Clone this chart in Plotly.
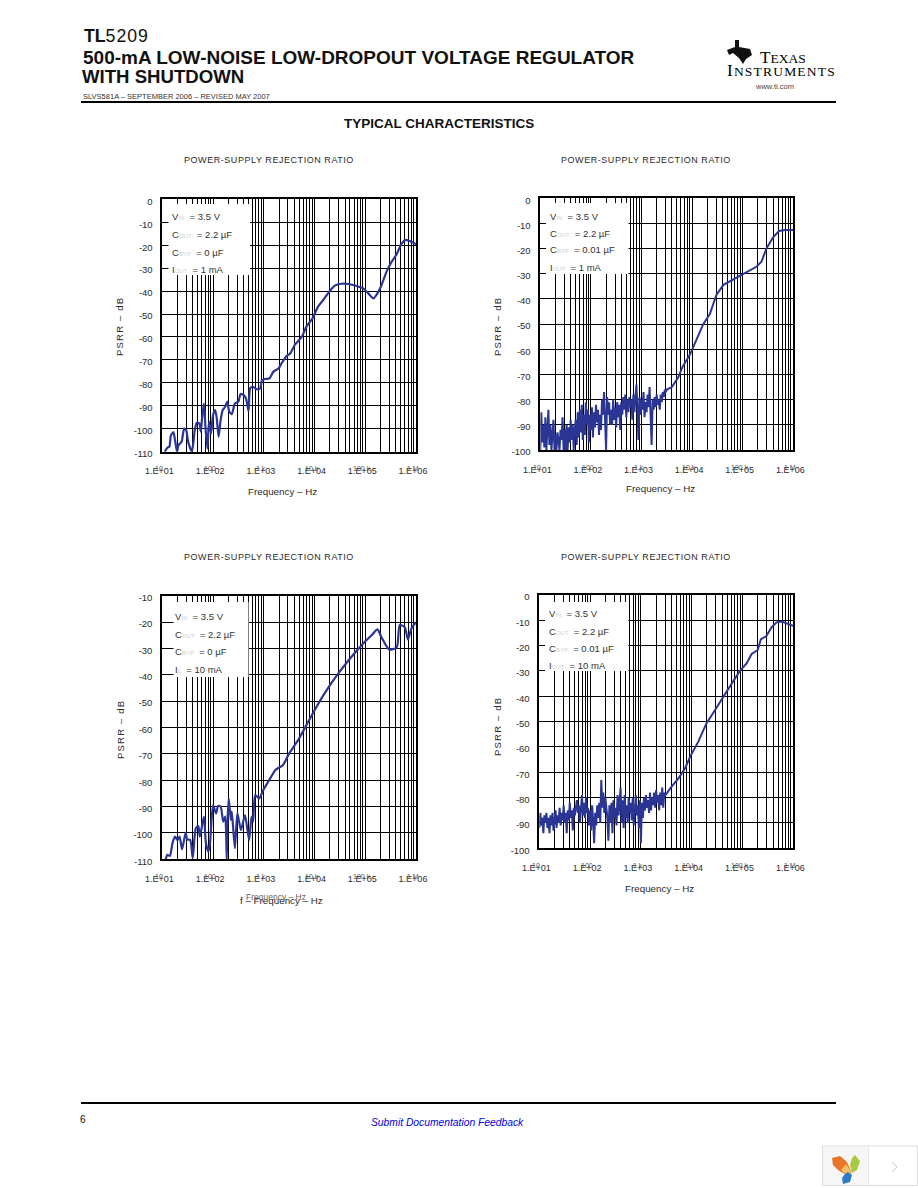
import math
import plotly.graph_objects as go

W, H = 918, 1188

# ---------- data: log10(frequency in Hz) and PSRR in dB ----------
lf_a = [1.05,1.10,1.14,1.17,1.22,1.25,1.29,1.32,1.38,1.43,1.47,1.51,1.58,1.61,1.64,1.68,1.73,1.76,1.78,1.82,
        1.85,1.89,1.92,1.96,2.00,2.04,2.07,2.11,2.15,2.19,2.24,2.28,2.32,2.37,2.43,2.50,2.54,2.60,2.65,2.70,
        2.73,2.78,2.87,2.93,2.96,3.02,3.11,3.19,3.29,3.35,3.45,3.52,3.61,3.75,3.84,3.96,4.07,4.17,4.29,4.40,
        4.53,4.67,4.83,4.96,5.06,5.16,5.24,5.32,5.42,5.52,5.61,5.72,5.80,5.91,6.00]
db_a = [-110,-108.3,-107.8,-102.8,-101.5,-104.9,-110,-107.1,-105.7,-99.9,-100.6,-105.7,-110,-106.4,-100.6,-97.4,-97.7,-101.3,-96.2,-89,
        -99.1,-108.6,-96.9,-102,-94,-91.9,-94.8,-103.5,-96.2,-91.9,-90.4,-88.2,-92.6,-93.6,-89,-88.2,-84.9,-85.3,-86.8,-92.3,
        -82.4,-81.7,-82.8,-82.4,-79.1,-78.3,-78.1,-75.1,-73.7,-71.5,-68.3,-67.2,-63.5,-59.9,-55.5,-51.9,-46.8,-43.9,-40.3,-37.6,
        -36.8,-36.9,-37.8,-38.8,-41,-43.2,-41,-37.4,-31.5,-27.2,-24.3,-19.2,-17.7,-18.5,-19.6]

lf_b = [1.00,1.02,1.04,1.06,1.08,1.10,1.12,1.14,1.16,1.18,
        1.20,1.22,1.24,1.26,1.28,1.30,1.32,1.34,1.36,1.38,
        1.40,1.42,1.44,1.46,1.48,1.50,1.52,1.54,1.56,1.58,
        1.60,1.62,1.64,1.66,1.68,1.70,1.72,1.74,1.76,1.78,
        1.80,1.82,1.84,1.86,1.88,1.90,1.92,1.94,1.96,1.98,
        2.00,2.02,2.04,2.06,2.08,2.10,2.12,2.14,2.16,2.18,
        2.20,2.22,2.24,2.26,2.28,2.30,2.32,2.34,2.36,2.38,
        2.40,2.42,2.44,2.46,2.48,2.50,2.52,2.54,2.56,2.58,
        2.60,2.62,2.64,2.66,2.68,2.70,2.72,2.74,2.76,2.78,
        2.80,2.82,2.84,2.86,2.88,2.90,2.92,2.94,2.96,2.98,
        3.00,3.02,3.04,3.06,3.08,3.10,3.12,3.14,3.16,3.18,
        3.20,3.22,3.24,3.26,3.28,3.30,3.32,3.34,3.36,3.38,
        3.40,3.42,3.44,3.46,3.48,
        3.50,3.60,3.73,3.81,3.96,4.09,4.22,4.35,4.48,4.62,4.78,4.95,5.11,5.27,5.37,5.47,5.60,5.72,5.83,6.00]
db_b = [-100,-85,-97,-90,-99,-87,-100,-92,-84,-98,
        -90,-100,-93,-88,-100,-94,-100,-93,-96,-100,
        -92,-96,-87,-100,-92,-100,-90,-100,-91,-97,
        -88,-96,-90,-100,-92,-88,-98,-85,-95,-84,
        -93,-82,-96,-86,-94,-81,-90,-84,-97,-86,
        -92,-83,-95,-85,-91,-82,-89,-84,-94,-86,
        -92,-80,-86,-77,-88,-100,-79,-86,-81,-90,
        -84,-90,-80,-88,-83,-91,-81,-87,-82,-92,
        -81,-86,-79,-84,-78,-87,-80,-85,-79,-83,
        -80,-88,-78,-85,-79,-74,-84,-96,-79,-86,
        -80,-84,-77,-87,-81,-85,-78,-83,-75,-86,
        -98,-80,-84,-79,-83,-78,-82,-80,-84,-78,
        -81,-77,-79,-76,-77,
        -76,-75,-71,-67,-62,-56,-50,-46,-38.4,-34.4,-32.7,-30.6,-29.1,-27.2,-25.2,-19.9,-15.5,-13,-12.6,-12.6]

lf_c = [1.07,1.10,1.15,1.20,1.25,1.30,1.34,1.39,1.46,1.49,1.55,1.60,1.66,1.71,1.74,1.82,1.86,1.91,1.94,2.00,
        2.06,2.10,2.15,2.20,2.24,2.27,2.28,2.31,2.35,2.37,2.43,2.48,2.55,2.63,2.71,2.76,2.79,2.83,2.91,2.99,
        3.09,3.23,3.38,3.50,3.68,3.84,4.04,4.24,4.47,4.70,4.96,5.13,5.24,5.32,5.47,5.62,5.68,5.78,5.84,5.91,6.00]
db_c = [-110,-108.3,-108.7,-103.9,-101.4,-102.7,-101.4,-106.2,-99.9,-102.4,-102.7,-109.6,-98.2,-97.4,-101.4,-93.8,-103.9,-107.1,-103.9,-89.4,
        -92.6,-89.8,-90,-95.7,-93.8,-110,-98,-86.9,-95.1,-91.9,-105.8,-92.6,-98.9,-93.2,-102.7,-93.8,-95.7,-85.6,-86.9,-83.7,
        -80.5,-76.1,-74.2,-69.8,-64.7,-59.1,-52.1,-45.8,-39.5,-33.8,-28.1,-24.9,-22.8,-25.8,-30.4,-29.6,-21.1,-22,-26.6,-22.4,-20.1]

lf_d = [1.00,1.02,1.04,1.06,1.08,1.10,1.12,1.14,1.16,1.18,
        1.20,1.22,1.24,1.26,1.28,1.30,1.32,1.34,1.36,1.38,
        1.40,1.42,1.44,1.46,1.48,1.50,1.52,1.54,1.56,1.58,
        1.60,1.62,1.64,1.66,1.68,1.70,1.72,1.74,1.76,1.78,
        1.80,1.82,1.84,1.86,1.88,1.90,1.92,1.94,1.96,1.98,
        2.00,2.02,2.04,2.06,2.08,2.10,2.12,2.14,2.16,2.18,
        2.20,2.22,2.24,2.26,2.28,2.30,2.32,2.34,2.36,2.38,
        2.40,2.42,2.44,2.46,2.48,2.50,2.52,2.54,2.56,2.58,
        2.60,2.62,2.64,2.66,2.68,2.70,2.72,2.74,2.76,2.78,
        2.80,2.82,2.84,2.86,2.88,2.90,2.92,2.94,2.96,2.98,
        3.00,3.02,3.04,3.06,3.08,3.10,3.12,3.14,3.16,3.18,
        3.20,3.22,3.24,3.26,3.28,3.30,3.32,3.34,3.36,3.38,
        3.40,3.42,3.44,3.46,3.48,
        3.51,3.60,3.74,3.87,3.97,4.13,4.29,4.46,4.62,4.79,4.95,5.08,5.18,5.30,5.36,5.47,5.57,5.67,5.77,5.90,6.00]
db_d = [-92,-86,-91,-88,-94,-87,-90,-86,-92,-88,
        -94,-87,-91,-86,-93,-88,-85,-92,-87,-90,
        -84,-91,-86,-89,-83,-90,-86,-94,-85,-89,
        -82,-88,-85,-93,-84,-87,-83,-81,-86,-83,
        -90,-84,-79,-87,-82,-88,-80,-86,-84,-91,
        -85,-93,-83,-89,-98,-86,-91,-83,-88,-82,
        -90,-73,-84,-78,-86,-80,-84,-88,-97,-83,
        -90,-82,-94,-81,-88,-84,-91,-79,-87,-83,
        -76,-90,-81,-92,-79,-88,-83,-90,-80,-86,
        -82,-89,-80,-91,-84,-79,-87,-83,-92,-81,
        -98,-82,-88,-80,-85,-79,-84,-81,-86,-78,
        -85,-80,-83,-78,-84,-77,-82,-79,-85,-78,
        -83,-76,-84,-78,-79,
        -78.3,-75.7,-72.4,-68.4,-63.8,-57.9,-50.7,-45.4,-40.1,-34.9,-29.9,-27,-23.3,-21.7,-17.5,-16.2,-12.8,-10.8,-10.5,-11.4,-12.2]

x_ticks = [10, 100, 1000, 10000, 100000, 1000000]
x_tick_labels = ["1.E+01", "1.E+02", "1.E+03", "1.E+04", "1.E+05", "1.E+06"]
x_overlay_labels = ["10", "100", "1 k", "10 k", "100 k", "1 M"]

FONT = "Liberation Sans"
INK = "#2b2b2b"
BLUE = "#2b3694"

def px(x): return x / W
def py(y): return 1 - y / H

def small(s):
    return f'<span style="color:#d0d0d0;font-size:6px">{s}</span>'

NB = "\u00a0"
panels = [
    dict(lf=lf_a, db=db_a, box=(162.3, 416, 199.3, 451.7), yr=(-110, 0), yt=list(range(-110, 1, 10)), spline=True,
         white=(168.5, 250, 204, 275), lx=171, ly=(216, 234.5, 252, 269), ttl=(269, 160), xt=(282, 491), yttl=(119, 327),
         leg=[f"V{small('IN')}{NB}{NB}= 3.5 V", f"C{small('OUT')}{NB}{NB}= 2.2 µF", f"C{small('BYP')}{NB}{NB}= 0 µF", f"I{small('OUT')}{NB}{NB}= 1 mA"]),
    dict(lf=lf_b, db=db_b, box=(540.3, 793.3, 198.3, 450), yr=(-100, 0), yt=list(range(-100, 1, 10)), spline=False,
         white=(546, 628.5, 203, 274), lx=549, ly=(216, 233, 250, 268), ttl=(646, 160), xt=(660, 489), yttl=(497, 327),
         leg=[f"V{small('IN')}{NB}{NB}= 3.5 V", f"C{small('OUT')}{NB}{NB}= 2.2 µF", f"C{small('BYP')}{NB}{NB}= 0.01 µF", f"I{small('OUT')}{NB}{NB}= 1 mA"]),
    dict(lf=lf_c, db=db_c, box=(162.3, 416, 595.7, 859.3), yr=(-110, -10), yt=list(range(-110, -9, 10)), spline=True,
         white=(173.5, 248.5, 602, 677), lx=174, ly=(616, 634, 651, 669), ttl=(269, 557), xt=(281, 900), yttl=(120, 730),
         leg=[f"V{small('IN')}{NB}{NB}= 3.5 V", f"C{small('OUT')}{NB}{NB}= 2.2 µF", f"C{small('BYP')}{NB}{NB}= 0 µF", f"I{small('L')}{NB}{NB}= 10 mA"]),
    dict(lf=lf_d, db=db_d, box=(539.3, 793.3, 595, 848.3), yr=(-100, 0), yt=list(range(-100, 1, 10)), spline=False,
         white=(545, 628.5, 602, 671), lx=548, ly=(613.5, 631, 648, 665.5), ttl=(646, 557), xt=(659, 888), yttl=(497, 727),
         leg=[f"V{small('IN')}{NB}{NB}= 3.5 V", f"C{small('OUT')}{NB}{NB}= 2.2 µF", f"C{small('BYP')}{NB}{NB}= 0.01 µF", f"I{small('OUT')}{NB}{NB}= 10 mA"]),
]

fig = go.Figure()
annotations, shapes = [], []

def text(x, y, s, size=9, color=INK, family=FONT, anchor="center", angle=0, **kw):
    annotations.append(dict(x=px(x), y=py(y), xref="paper", yref="paper", text=s, showarrow=False,
                            xanchor=anchor, yanchor="middle", textangle=angle,
                            font=dict(size=size, color=color, family=family), borderpad=0, **kw))

def rect(x0, y0, x1, y1, fill, line=None, lw=0, layer="above"):
    shapes.append(dict(type="rect", xref="paper", yref="paper", x0=px(x0), x1=px(x1), y0=py(y1), y1=py(y0),
                       fillcolor=fill, line=dict(color=line or fill, width=lw), layer=layer))

def poly(points, fill, line=None, lw=0, close=True):
    d = "M " + " L ".join(f"{px(a):.5f},{py(b):.5f}" for a, b in points) + (" Z" if close else "")
    shapes.append(dict(type="path", path=d, xref="paper", yref="paper", fillcolor=fill,
                       line=dict(color=line or "rgba(0,0,0,0)", width=lw), layer="above"))

for i, p in enumerate(panels):
    n = "" if i == 0 else str(i + 1)
    x0, x1, y0, y1 = p["box"]
    freq = [10 ** v for v in p["lf"]]
    fig.add_trace(go.Scatter(x=freq, y=p["db"], mode="lines", xaxis=f"x{n}", yaxis=f"y{n}", showlegend=False,
                             line=dict(color=BLUE, width=2.2 if p["spline"] else 2,
                                       shape="spline" if p["spline"] else "linear", smoothing=0.6)))
    fig.layout[f"xaxis{n}"] = dict(
        type="log", range=[1, 6], domain=[px(x0), px(x1)], anchor=f"y{n}",
        tickmode="array", tickvals=x_ticks, ticktext=x_tick_labels,
        ticks="outside", ticklen=10, tickcolor="rgba(255,255,255,0)",
        tickfont=dict(size=9, color=INK, family=FONT), tickangle=0, ticklabelshift=-3,
        showgrid=True, gridcolor="#000", gridwidth=1,
        minor=dict(dtick="D1", showgrid=True, gridcolor="#000", gridwidth=1, ticks=""),
        showline=True, linecolor="#000", linewidth=1.5, mirror=True, zeroline=False)
    fig.layout[f"yaxis{n}"] = dict(
        range=list(p["yr"]), domain=[py(y1), py(y0)], anchor=f"x{n}",
        tickmode="array", tickvals=p["yt"], ticktext=[str(v) for v in p["yt"]],
        ticks="outside", ticklen=6, tickcolor="rgba(255,255,255,0)",
        tickfont=dict(size=9.5, color=INK, family=FONT), ticklabelshift=2,
        showgrid=True, gridcolor="#000", gridwidth=1,
        showline=True, linecolor="#000", linewidth=2 if i == 2 else 1.5, mirror=True, zeroline=False)
    rect(*[p["white"][0], p["white"][2], p["white"][1], p["white"][3]], "#fff")
    text(p["ttl"][0], p["ttl"][1], '<span style="letter-spacing:0.55px">POWER-SUPPLY REJECTION RATIO</span>', size=9)
    text(p["xt"][0], p["xt"][1], "f – Frequency – Hz" if i == 2 else "Frequency – Hz", size=9.8)
    text(p["yttl"][0], p["yttl"][1], '<span style="letter-spacing:1.2px">PSRR – dB</span>', size=9.5, angle=-90)
    for s, yy in zip(p["leg"], p["ly"]):
        text(p["lx"], yy, s, size=9.5, color="#333", anchor="left")
    for tv, ov in zip(x_ticks, x_overlay_labels):
        annotations.append(dict(x=math.log10(tv), y=py(y1 + 17), xref=f"x{n}", yref="paper", text=ov, showarrow=False,
                                xanchor="center", yanchor="middle", xshift=-3,
                                font=dict(size=7, color="#555", family=FONT)))

text(276, 897, "Frequency – Hz", size=8.5, color="#666")

# ---------- document furniture ----------
text(83, 36, '<b>TL</b><span style="letter-spacing:1px">5209</span>', size=17.7, color="#111", anchor="left")
text(82, 57.5, "<b>500-mA LOW-NOISE LOW-DROPOUT VOLTAGE REGULATOR</b>", size=19, color="#111", anchor="left")
text(81, 76.5, "<b>WITH SHUTDOWN</b>", size=18.6, color="#111", anchor="left")
text(82, 97, "SLVS581A – SEPTEMBER 2006 – REVISED MAY 2007", size=7.5, color="#333", anchor="left")
text(439, 124, "<b>TYPICAL CHARACTERISTICS</b>", size=13.5, color="#111")
rect(81, 101, 836, 103, "#000")
rect(81, 1102, 836, 1104, "#000")
text(83, 1119, "6", size=10, color="#111")
text(447.5, 1122, "<i>Submit Documentation Feedback</i>", size=10.3, color="#0000e0")

# TI logo
poly([(735, 40), (739, 40), (739, 47), (750, 49), (752, 55), (746, 59), (743, 64), (739, 58), (733, 53), (729, 55), (727, 50), (735, 47)], "#111")
text(783, 57, 'T<span style="font-size:13.5px">EXAS</span>', size=17, color="#000", family="Liberation Serif")
text(781, 70, '<span style="letter-spacing:1.2px">I<span style="font-size:13.5px">NSTRUMENTS</span></span>', size=17, color="#000", family="Liberation Serif")
text(774, 87, "www.ti.com", size=7.5, color="#444")

# viewer widget, bottom right
rect(822.5, 1146, 917.5, 1185.5, "#fff", "#dcdcdc", 1)
rect(823, 1146.5, 868, 1185, "#f6f6f6")
rect(868, 1146, 868.7, 1185.5, "#dcdcdc")
poly([(832, 1158), (840, 1156), (847, 1162), (852, 1173), (846, 1175), (838, 1170), (833, 1165)], "#e9742a")
poly([(846, 1164), (852, 1173), (846, 1175), (841, 1170)], "#f5bd6a")
poly([(855, 1155), (860, 1161), (857, 1170), (852, 1173), (850, 1165), (852, 1158)], "#a9c93f")
poly([(848, 1172), (852, 1175), (850, 1182), (843, 1184), (842, 1178), (845, 1174)], "#2a7cc9")
poly([(892, 1162), (897, 1167), (892, 1172)], "rgba(0,0,0,0)", "#cccccc", 1, close=False)

fig.update_layout(width=W, height=H, autosize=False, margin=dict(l=0, r=0, t=0, b=0, pad=0, autoexpand=False),
                  paper_bgcolor="#fff", plot_bgcolor="#fff", showlegend=False,
                  annotations=annotations, shapes=shapes)
fig.write_html("out.html", config={"displayModeBar": False},
               post_script="document.body.style.margin='0';document.body.style.overflow='hidden';")
